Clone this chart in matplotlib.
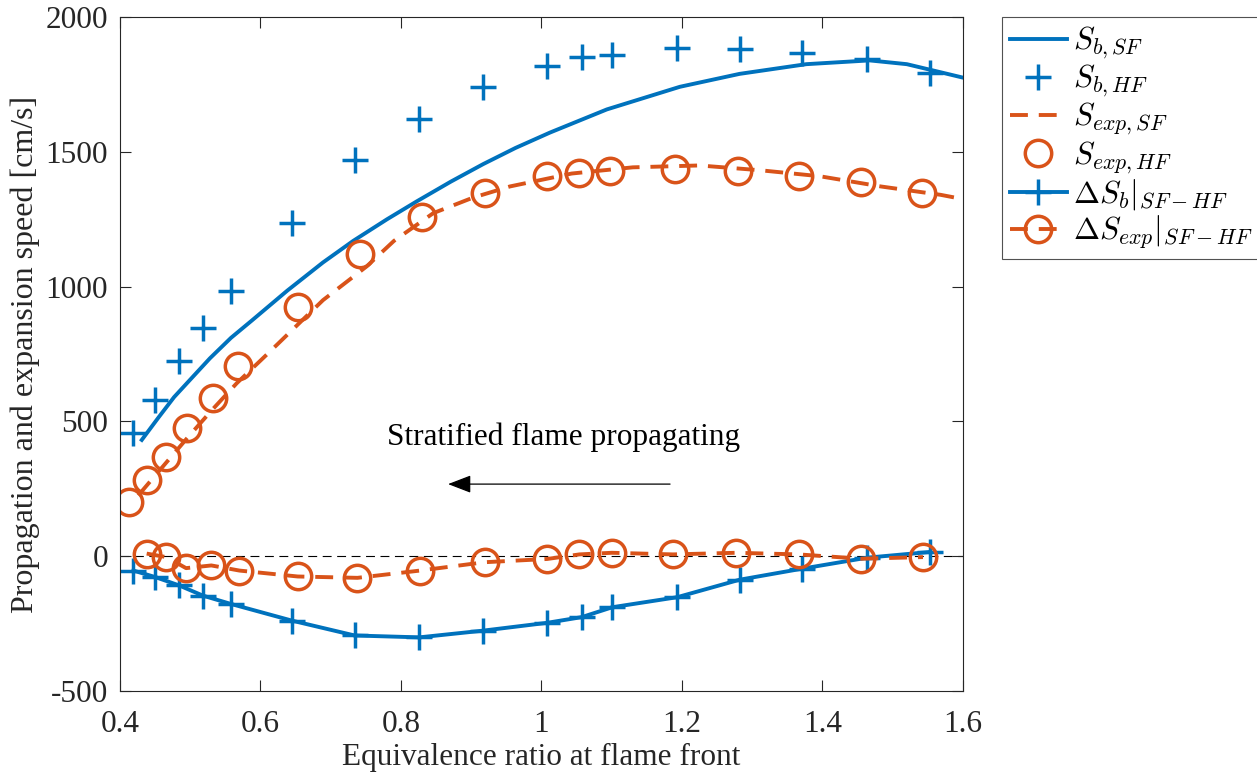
import numpy as np
import matplotlib
matplotlib.use('Agg')
import matplotlib.pyplot as plt

plt.rcParams['font.family'] = ['Liberation Serif', 'DejaVu Serif']
plt.rcParams['mathtext.fontset'] = 'cm'
plt.rcParams['axes.unicode_minus'] = False

blue = '#0072BD'
orange = '#D95319'

# S_b,SF (solid curve)
phi_sb_sf = [0.431, 0.455, 0.477, 0.50, 0.528, 0.558, 0.588, 0.638, 0.689, 0.732, 0.780, 0.822,
             0.871, 0.917, 0.963, 1.012, 1.093, 1.197, 1.282, 1.377, 1.467, 1.520, 1.600]
sb_sf = [431, 515, 590, 655, 734, 810, 875, 985, 1090, 1170, 1250, 1316,
         1390, 1455, 1515, 1572, 1658, 1742, 1790, 1826, 1840, 1826, 1776]

# S_b,HF (+ markers)
phi_hf = [0.419, 0.450, 0.484, 0.518, 0.558, 0.645, 0.734, 0.826, 0.917, 1.008, 1.057, 1.101,
          1.193, 1.282, 1.371, 1.464, 1.553]
sb_hf = [457, 579, 725, 846, 984, 1238, 1472, 1624, 1741, 1821, 1854, 1859,
         1887, 1881, 1866, 1844, 1794]

# S_exp,SF (dashed curve)
phi_sexp_sf = [0.426, 0.457, 0.497, 0.532, 0.566, 0.613, 0.689, 0.751, 0.790, 0.846, 0.902, 0.955,
               1.043, 1.130, 1.225, 1.312, 1.396, 1.483, 1.568, 1.600]
sexp_sf = [225, 320, 442, 545, 641, 758, 950, 1075, 1170, 1273, 1330, 1372,
           1420, 1443, 1450, 1432, 1410, 1372, 1341, 1325]

# S_exp,HF (o markers)
phi_exp_hf = [0.413, 0.438, 0.466, 0.496, 0.532, 0.568, 0.653, 0.741, 0.830, 0.920, 1.008, 1.054,
              1.098, 1.190, 1.280, 1.367, 1.455, 1.542]
sexp_hf = [200, 282, 368, 477, 588, 706, 924, 1120, 1260, 1346, 1412, 1421,
           1428, 1437, 1428, 1410, 1388, 1348]

# Delta S_b |SF-HF (same phi as S_b,HF)
dsb = [-54, -78, -109, -147, -178, -240, -295, -302, -277, -248, -227, -190,
       -153, -88, -47, -6, 15]

# Delta S_exp |SF-HF
phi_dexp = [0.438, 0.466, 0.494, 0.530, 0.570, 0.653, 0.738, 0.827, 0.919, 1.008, 1.054, 1.100,
            1.187, 1.277, 1.366, 1.455, 1.543]
dsexp = [9, -4, -45, -35, -54, -76, -81, -54, -23, -11, 6, 12,
         6, 12, 6, -10, -4]

fs = 22.5
fig = plt.figure(figsize=(12.57, 7.77), dpi=100)
ax = fig.add_axes([120 / 1257, 1 - 690.7 / 777, 843 / 1257, 673.4 / 777])

lw = 2.8
ms = 19
mew = 2.5
dash = (4.6, 2.8)

ax.axhline(0, color='k', lw=0.8, ls=(0, (8, 5)), zorder=1)

ax.plot(phi_sb_sf, sb_sf, '-', color=blue, lw=lw, label=r'$S_{b,SF}$')
ax.plot(phi_hf, sb_hf, '+', color=blue, ms=ms, mew=mew, label=r'$S_{b,HF}$')
ax.plot(phi_sexp_sf, sexp_sf, '--', color=orange, lw=lw, dashes=dash, label=r'$S_{exp,SF}$')
ax.plot(phi_exp_hf, sexp_hf, 'o', color=orange, ms=ms, mew=mew, mfc='none', label=r'$S_{exp,HF}$')
ax.plot(phi_hf, dsb, '-+', color=blue, lw=lw, ms=ms, mew=mew, label=r'$\Delta S_b|_{SF-HF}$')
ax.plot(phi_dexp, dsexp, '--o', color=orange, lw=lw, dashes=dash, ms=ms, mew=mew, mfc='none',
        label=r'$\Delta S_{exp}|_{SF-HF}$')

ax.text(1.031, 442, 'Stratified flame propagating', ha='center', va='center', fontsize=fs)
ax.annotate('', xy=(0.867, 267), xytext=(1.183, 267),
            arrowprops=dict(arrowstyle='-|>,head_length=0.65,head_width=0.25', color='k', lw=0.9,
                            mutation_scale=22, shrinkA=0, shrinkB=0))

ax.set_xlim(0.4, 1.6)
ax.set_ylim(-500, 2000)
ax.set_xticks([0.4, 0.6, 0.8, 1.0, 1.2, 1.4, 1.6])
ax.set_xticklabels(['0.4', '0.6', '0.8', '1', '1.2', '1.4', '1.6'])
ax.set_yticks([-500, 0, 500, 1000, 1500, 2000])
ax.tick_params(direction='in', top=True, right=True, length=8, width=0.8,
               labelsize=fs, colors='#262626')
ax.tick_params(axis='x', pad=14)
ax.tick_params(axis='y', pad=8.5)
for s in ax.spines.values():
    s.set_color('#262626')
    s.set_linewidth(0.8)

ax.set_xlabel('Equivalence ratio at flame front', fontsize=fs, color='#262626', labelpad=3)
ax.set_ylabel('Propagation and expansion speed [cm/s]', fontsize=23, color='#262626', labelpad=4)

leg = ax.legend(loc='upper left', bbox_to_anchor=(1002 / 1257, 1 - 17.3 / 777),
                bbox_transform=fig.transFigure, fontsize=fs, frameon=True,
                fancybox=False, edgecolor='#262626', handlelength=1.82, handletextpad=0.2,
                labelspacing=0.06, borderpad=0.25, borderaxespad=0.0, markerscale=1.0)
leg.get_frame().set_linewidth(0.8)

fig.savefig('out.png', dpi=100)
